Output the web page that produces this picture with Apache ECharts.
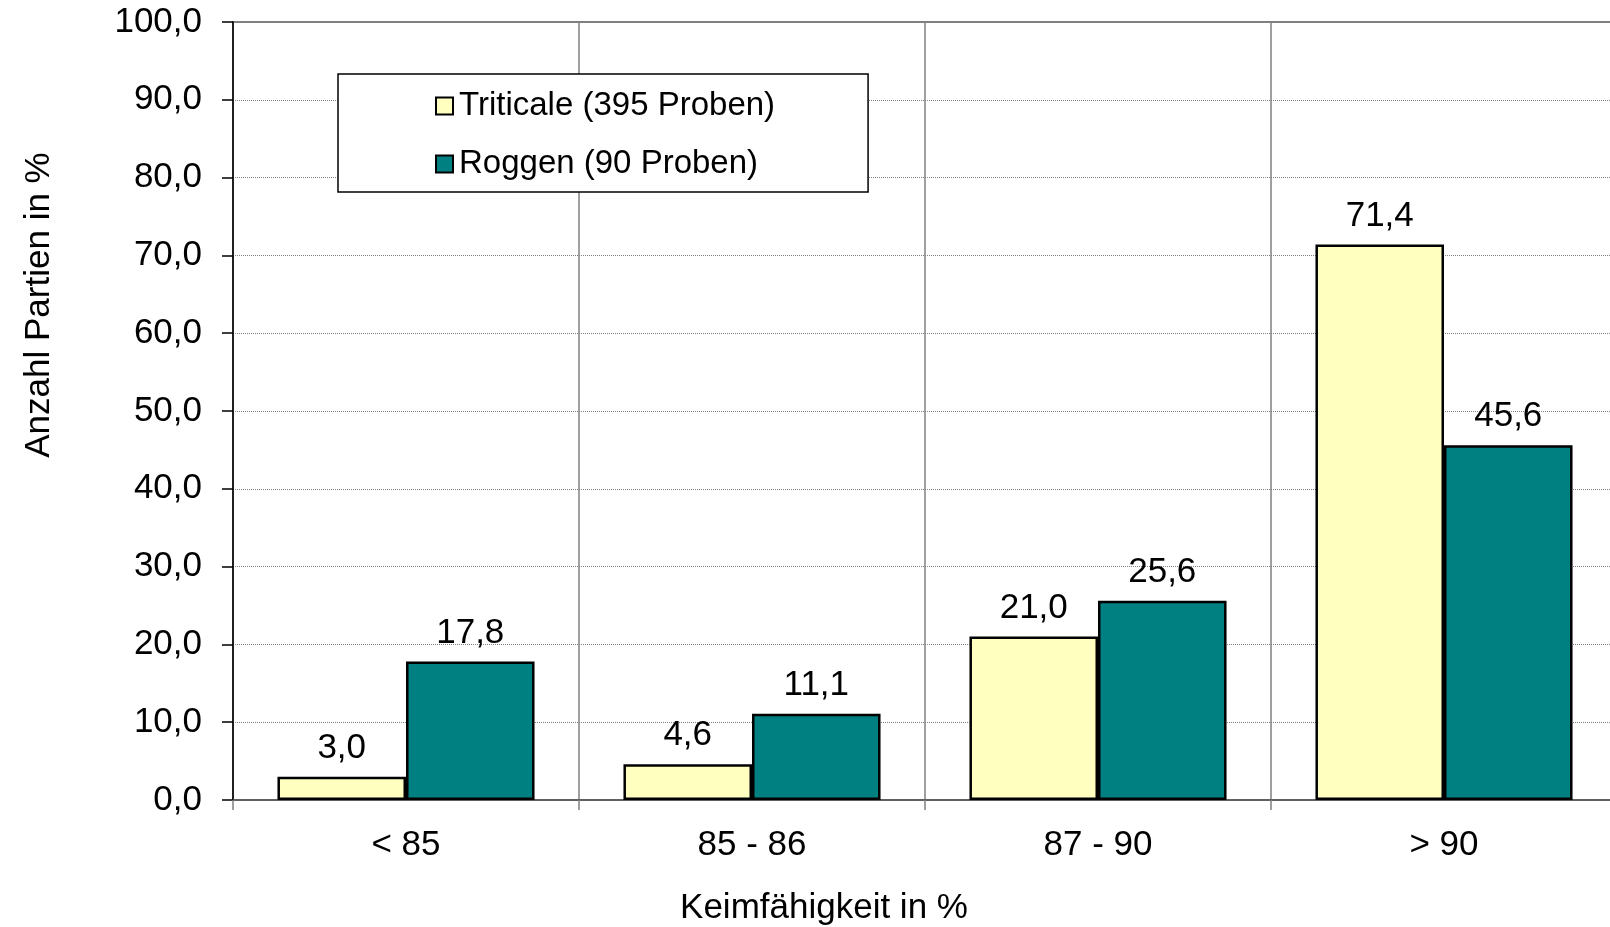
<!DOCTYPE html>
<html>
<head>
<meta charset="utf-8">
<script src="https://cdn.jsdelivr.net/npm/echarts@6/dist/echarts.min.js"></script>
<style>
html,body{margin:0;padding:0;background:#fff;overflow:hidden;width:1610px;height:927px;}
#chart{width:1620px;height:927px;}
</style>
</head>
<body>
<div id="chart"></div>
<script>
var categories = ['< 85', '85 - 86', '87 - 90', '> 90'];
var triticale = [3.0, 4.6, 21.0, 71.4];
var roggen = [17.8, 11.1, 25.6, 45.6];
var seriesNames = ['Triticale (395 Proben)', 'Roggen (90 Proben)'];
var xTitle = 'Keimfähigkeit in %';
var yTitle = 'Anzahl Partien in %';

var FONT = '"Liberation Sans", Arial, sans-serif';
var chart = echarts.init(document.getElementById('chart'));
function fmt(v) { return v.toFixed(1).replace('.', ','); }

chart.setOption({
  animation: false,
  backgroundColor: '#fff',
  textStyle: { fontFamily: FONT, color: '#000' },
  grid: {
    left: 233, top: 22, right: 3, bottom: 127,
    show: true, borderColor: '#808080', borderWidth: 2, backgroundColor: 'transparent'
  },
  legend: {
    orient: 'vertical',
    left: 338, top: 74,
    padding: [15, 93, 11, 97],
    itemGap: 24,
    itemWidth: 17, itemHeight: 17,
    icon: 'rect',
    backgroundColor: '#fff',
    borderColor: '#000', borderWidth: 1.5,
    textStyle: { fontFamily: FONT, fontSize: 33, color: '#000', lineHeight: 34, padding: [0, 0, 0, 1] },
    data: seriesNames
  },
  xAxis: {
    type: 'category',
    data: categories,
    boundaryGap: true,
    axisLine: { show: true, lineStyle: { color: '#555', width: 1.5 } },
    axisTick: { show: true, length: 10, inside: false, lineStyle: { color: '#808080', width: 1.5 } },
    splitLine: { show: true, lineStyle: { color: '#808080', width: 1.5, type: 'solid' } },
    axisLabel: { fontFamily: FONT, fontSize: 35, color: '#000', margin: 28 }
  },
  yAxis: {
    type: 'value',
    min: 0, max: 100, interval: 10,
    axisLine: { show: true, lineStyle: { color: '#000', width: 1.5 } },
    axisTick: { show: true, length: 11, lineStyle: { color: '#000', width: 1.5 } },
    splitLine: { show: true, lineStyle: { color: '#808080', width: 1, type: 'dotted' } },
    axisLabel: { fontFamily: FONT, fontSize: 35, color: '#000', margin: 31, formatter: function (v) { return fmt(v); } }
  },
  graphic: [
    { type: 'text', x: 824, y: 908, style: { text: xTitle, font: '35px ' + FONT, fill: '#000', textAlign: 'center', textVerticalAlign: 'middle' } },
    { type: 'text', x: 39, y: 305, rotation: Math.PI / 2, style: { text: yTitle, font: '35px ' + FONT, fill: '#000', textAlign: 'center', textVerticalAlign: 'middle' } }
  ],
  series: [
    {
      name: seriesNames[0], type: 'bar', data: triticale,
      barGap: '0%', barCategoryGap: '25.7%',
      itemStyle: { color: '#FFFFC0', borderColor: '#000', borderWidth: 2.5 },
      label: { show: true, position: 'top', distance: 11, fontFamily: FONT, fontSize: 35, color: '#000', formatter: function (p) { return fmt(p.value); } }
    },
    {
      name: seriesNames[1], type: 'bar', data: roggen,
      barGap: '0%', barCategoryGap: '25.7%',
      itemStyle: { color: '#008080', borderColor: '#000', borderWidth: 2.5 },
      label: { show: true, position: 'top', distance: 11, fontFamily: FONT, fontSize: 35, color: '#000', formatter: function (p) { return fmt(p.value); } }
    }
  ]
});
</script>
</body>
</html>
